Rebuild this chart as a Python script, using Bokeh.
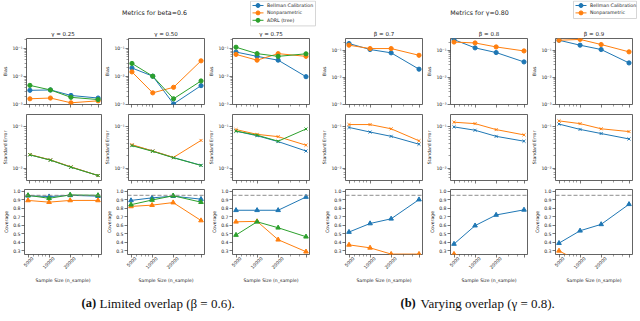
import math
from bokeh.plotting import figure
from bokeh.layouts import column, row
from bokeh.models import (Range1d, FixedTicker, CustomJSTickFormatter,
                          NumeralTickFormatter, Span, LogAxis)
from bokeh.core.properties import value
from bokeh.embed import file_html
from bokeh.resources import INLINE

# ---------------------------------------------------------------- data
sample_sizes = [5000, 10000, 20000, 50000]
series_names = ["Bellman Calibration", "Nonparametric", "ADRL (tree)"]
suptitles = ["Metrics for beta=0.6", "Metrics for γ=0.80"]
titles_a = ["γ = 0.25", "γ = 0.50", "γ = 0.75"]
titles_b = ["β = 0.7", "β = 0.8", "β = 0.9"]
captions_tag = ["(a)", "(b)"]
captions_text = ["Limited overlap (β = 0.6).", "Varying overlap (γ = 0.8)."]
ylabels = ["Bias", "Standard Error", "Coverage"]
xlabel = "Sample Size (n_sample)"
nominal_coverage = 0.95

# (a) limited overlap, beta = 0.6, panels gamma = 0.25 / 0.50 / 0.75
bias_bellman_a = [[3.2e-3, 3.3e-3, 2.1e-3, 1.7e-3],
                  [2.0e-2, 1.02e-2, 1.05e-3, 4.7e-3],
                  [7.4e-2, 5.2e-2, 3.8e-2, 9.8e-3]]
bias_nonpar_a = [[1.6e-3, 1.7e-3, 1.15e-3, 1.35e-3],
                 [1.45e-2, 2.6e-3, 4.1e-3, 3.6e-2],
                 [6.1e-2, 3.8e-2, 6.5e-2, 5.2e-2]]
bias_adrl_a = [[4.8e-3, 3.3e-3, 1.8e-3, 1.5e-3],
               [2.9e-2, 1.02e-2, 1.6e-3, 6.9e-3],
               [0.11, 6.5e-2, 5.2e-2, 6.4e-2]]
se_bellman_a = [[0.021, 0.0157, 0.0106, 0.0066],
                [0.036, 0.026, 0.018, 0.0117],
                [0.079, 0.061, 0.044, 0.026]]
se_nonpar_a = [[0.0213, 0.0158, 0.0107, 0.0066],
               [0.037, 0.026, 0.0182, 0.047],
               [0.086, 0.066, 0.058, 0.036]]
se_adrl_a = [[0.021, 0.0156, 0.0105, 0.0066],
             [0.035, 0.0255, 0.0178, 0.0116],
             [0.079, 0.063, 0.045, 0.089]]
cov_bellman_a = [[0.945, 0.935, 0.95, 0.94],
                 [0.89, 0.92, 0.94, 0.905],
                 [0.775, 0.775, 0.775, 0.93]]
cov_nonpar_a = [[0.89, 0.87, 0.89, 0.89],
                [0.82, 0.835, 0.865, 0.655],
                [0.64, 0.645, 0.43, 0.29]]
cov_adrl_a = [[0.95, 0.915, 0.955, 0.95],
              [0.84, 0.895, 0.945, 0.87],
              [0.485, 0.64, 0.57, 0.465]]

# (b) varying overlap, gamma = 0.8, panels beta = 0.7 / 0.8 / 0.9
bias_bellman_b = [[0.176, 0.106, 0.08, 0.020],
                  [0.245, 0.122, 0.082, 0.037],
                  [0.233, 0.153, 0.106, 0.034]]
bias_nonpar_b = [[0.153, 0.115, 0.115, 0.065],
                 [0.20, 0.185, 0.132, 0.094],
                 [0.233, 0.25, 0.162, 0.087]]
se_bellman_b = [[0.097, 0.075, 0.059, 0.038],
                [0.10, 0.083, 0.059, 0.045],
                [0.117, 0.087, 0.069, 0.051]]
se_nonpar_b = [[0.114, 0.114, 0.09, 0.046],
               [0.13, 0.12, 0.086, 0.064],
               [0.14, 0.12, 0.09, 0.077]]
cov_bellman_b = [[0.52, 0.62, 0.675, 0.90],
                 [0.38, 0.595, 0.72, 0.78],
                 [0.39, 0.535, 0.61, 0.845]]
cov_nonpar_b = [[0.37, 0.335, 0.262, 0.262],
                [0.262, 0.2, 0.15, 0.12],
                [0.30, 0.17, 0.12, 0.10]]

# axis limits
bias_ylim_a = (1e-3, 0.225)
bias_ylim_b = (1e-3, 0.27)
se_ylim = (0.005, 0.2)
cov_ylim = (0.257, 1.018)

# ---------------------------------------------------------------- style
FONT = "DejaVu Sans"
SERIF = "Liberation Serif"
COLORS = ["#1f77b4", "#ff7f0e", "#2ca02c"]
INK = "#222222"
FRAME = "#3c3c3c"

# layout (page pixels): per column left border, frame width, right border
COLS = [(24, 77, 1), (25, 77, 1), (27, 77, 1), (35, 77, 1), (27, 77, 1), (27, 77, 8)]
ROWS = [(1, 66, 9), (1, 66, 8), (1, 66, 30)]
HEADER_H = 37
CAPTION_H = 35
TOTAL_W = sum(a + b + c for a, b, c in COLS)
LABEL_SHIFT = 4.5  # px: centre rotated tick labels under their ticks

xlo = min(sample_sizes) / 10 ** 0.05
xhi = max(sample_sizes) * 10 ** 0.05


def log_minor(lo, hi, majors):
    out = []
    for e in range(int(math.floor(math.log10(lo))) - 1, int(math.ceil(math.log10(hi))) + 1):
        for k in range(2, 10):
            v = k * 10 ** e
            if lo < v < hi and all(abs(v - m) > 1e-9 * m for m in majors):
                out.append(v)
    return out


def style_axis(ax):
    ax.axis_line_color = None
    ax.major_tick_in = 0
    ax.major_tick_out = 3
    ax.minor_tick_in = 0
    ax.minor_tick_out = 2
    ax.major_tick_line_color = FRAME
    ax.minor_tick_line_color = FRAME
    ax.major_tick_line_width = 0.7
    ax.minor_tick_line_width = 0.5
    ax.major_label_text_font = FONT
    ax.major_label_text_font_size = "4.6px"
    ax.major_label_text_color = INK
    ax.major_label_standoff = 1
    ax.axis_label_text_font = FONT
    ax.axis_label_text_font_size = "4.6px"
    ax.axis_label_text_font_style = "normal"
    ax.axis_label_text_color = INK
    ax.axis_label_standoff = 1


def make_panel(ci, ri, metric, series, ylim):
    L, FW, R = COLS[ci]
    T, FH, B = ROWS[ri]
    ytype = "linear" if metric == 2 else "log"
    p = figure(width=L + FW + R, height=T + FH + B,
               x_axis_type="log", y_axis_type=ytype,
               x_range=Range1d(xlo, xhi), y_range=Range1d(*ylim),
               toolbar_location=None, output_backend="svg", title=None,
               min_border_left=L, min_border_right=R,
               min_border_top=T, min_border_bottom=B)
    p.outline_line_color = FRAME
    p.outline_line_width = 0.8
    p.xgrid.visible = False
    p.ygrid.visible = False
    for ax in p.axis:
        style_axis(ax)
    p.xaxis.ticker = FixedTicker(ticks=sample_sizes,
                                 minor_ticks=log_minor(xlo, xhi, sample_sizes))
    p.xaxis.formatter = CustomJSTickFormatter(code="return ''")
    p.xaxis.major_label_text_font_size = "1px"
    p.xaxis.major_label_standoff = 0
    if ri == 2:
        # label-only axis, range nudged so rotated labels sit centred under ticks
        f = 10 ** (-LABEL_SHIFT / FW * math.log10(xhi / xlo))
        p.extra_x_ranges = {"labels": Range1d(xlo * f, xhi * f)}
        lab = LogAxis(x_range_name="labels",
                      ticker=FixedTicker(ticks=sample_sizes),
                      formatter=NumeralTickFormatter(format="0"))
        style_axis(lab)
        lab.major_tick_out = 0
        lab.minor_tick_out = 0
        lab.major_tick_line_color = None
        lab.minor_tick_line_color = None
        lab.major_label_standoff = 0
        lab.major_label_orientation = math.pi / 4
        lab.axis_label = xlabel
        lab.axis_label_standoff = 4
        p.add_layout(lab, "below")
    p.yaxis.axis_label = ylabels[metric]
    if metric == 2:
        p.yaxis.ticker = FixedTicker(ticks=[0.3, 0.4, 0.5, 0.6, 0.7, 0.8, 0.9, 1.0])
        p.yaxis.formatter = NumeralTickFormatter(format="0.0")
    else:
        lo, hi = ylim
        majors = [10.0 ** e for e in range(-4, 1) if lo * 0.999 <= 10.0 ** e <= hi]
        p.yaxis.ticker = FixedTicker(ticks=majors, minor_ticks=log_minor(lo, hi, majors))
        p.yaxis.formatter = CustomJSTickFormatter(code="""
            const e = Math.round(Math.log10(tick));
            const sup = {"-1": "\u207b\u00b9", "-2": "\u207b\u00b2", "-3": "\u207b\u00b3", "-4": "\u207b\u2074"};
            return "10" + sup[String(e)];
        """)
    marker = ["circle", "x", "triangle"][metric]
    msize = [4.2, 4.2, 4.6][metric]
    for color, vals in series:
        p.line(sample_sizes, vals, line_color=color, line_width=1)
        p.scatter(sample_sizes, vals, marker=marker, size=msize,
                  line_color=color, fill_color=color, line_width=1)
    if metric == 2:
        p.add_layout(Span(location=nominal_coverage, dimension="width",
                          line_color="#808080", line_dash="4 2", line_width=0.9))
    return p


group_a = [[bias_bellman_a, bias_nonpar_a, bias_adrl_a],
           [se_bellman_a, se_nonpar_a, se_adrl_a],
           [cov_bellman_a, cov_nonpar_a, cov_adrl_a]]
group_b = [[bias_bellman_b, bias_nonpar_b],
           [se_bellman_b, se_nonpar_b],
           [cov_bellman_b, cov_nonpar_b]]
ylims_a = [bias_ylim_a, se_ylim, cov_ylim]
ylims_b = [bias_ylim_b, se_ylim, cov_ylim]

grid_rows = []
for ri in range(3):
    figs = []
    for ci in range(6):
        if ci < 3:
            data, ylim, k = group_a[ri], ylims_a[ri], ci
        else:
            data, ylim, k = group_b[ri], ylims_b[ri], ci - 3
        series = [(COLORS[s], data[s][k]) for s in range(len(data))]
        figs.append(make_panel(ci, ri, ri, series, ylim))
    grid_rows.append(row(*figs))

# frame centres in page coordinates
centers = []
xpos = 0
for L, FW, R in COLS:
    centers.append(xpos + L + FW / 2)
    xpos += L + FW + R


def blank(height, y0):
    f = figure(width=TOTAL_W, height=height,
               x_range=Range1d(0, TOTAL_W), y_range=Range1d(y0 + height, y0),
               x_axis_type=None, y_axis_type=None, toolbar_location=None,
               output_backend="svg", title=None,
               min_border_left=0, min_border_right=0,
               min_border_top=0, min_border_bottom=0)
    f.outline_line_color = None
    return f


# ---------------------------------------------------------------- header
header = blank(HEADER_H, 0)
header.text(x=[154, 479], y=[12.3, 12.3], text=suptitles,
            text_font=value(FONT), text_font_size="6.3px", text_color=INK,
            text_align="center", text_baseline="middle")
header.text(x=centers, y=[33.4] * 6, text=titles_a + titles_b,
            text_font=value(FONT), text_font_size="5.5px", text_color=INK,
            text_align="center", text_baseline="middle")


def legend(fig, x0, x1, n):
    dy = 7.4
    fig.quad(left=[x0], right=[x1], top=[0.6], bottom=[3.2 + dy * n],
             fill_color="white", line_color="#cccccc", line_width=0.8)
    for i in range(n):
        y = 5 + dy * i
        fig.line([x0 + 2, x0 + 13], [y, y], line_color=COLORS[i], line_width=1)
        fig.scatter([x0 + 7.5], [y], marker="circle", size=4, color=COLORS[i])
        fig.text(x=[x0 + 16.5], y=[y], text=[series_names[i]],
                 text_font=value(FONT), text_font_size="4.7px", text_color=INK,
                 text_align="left", text_baseline="middle")


legend(header, 250, 315, 3)
legend(header, 573, 636, 2)

# ---------------------------------------------------------------- captions
cap_top = HEADER_H + sum(t + f + b for t, f, b in ROWS)
caption = blank(CAPTION_H, cap_top)
caption.text(x=[81, 400], y=[302.5, 302.5], text=captions_tag,
             text_font=value(SERIF), text_font_size="12.5px", text_font_style="bold",
             text_color="#111111", text_align="left", text_baseline="alphabetic")
caption.text(x=[99, 420], y=[302.5, 302.5], text=captions_text,
             text_font=value(SERIF), text_font_size="13px",
             text_color="#111111", text_align="left", text_baseline="alphabetic")

p = column(header, *grid_rows, caption)
open("out.html", "w").write(file_html(p, INLINE))
